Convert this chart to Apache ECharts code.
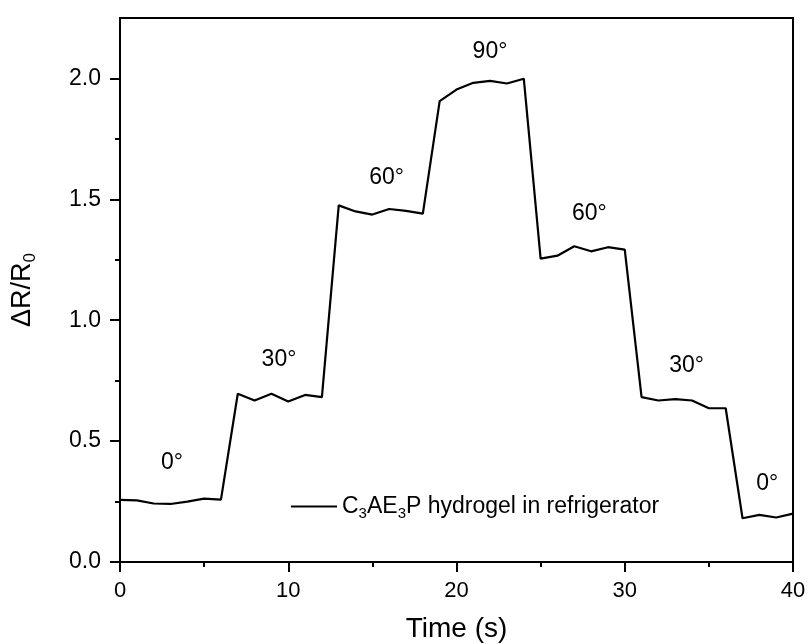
<!DOCTYPE html>
<html>
<head>
<meta charset="utf-8">
<script src="https://cdn.jsdelivr.net/npm/echarts@6/dist/echarts.min.js"></script>
<style>html,body{margin:0;padding:0;background:#fff}#c{width:809px;height:644px}</style>
</head>
<body>
<div id="c"></div>
<script>
var time = [0,1,2,3,4,5,6,7,8,9,10,11,12,13,14,15,16,17,18,19,20,21,22,23,24,25,26,27,28,29,30,31,32,33,34,35,36,37,38,39,40];
var ratio = [0.257,0.255,0.242,0.240,0.250,0.262,0.258,0.696,0.668,0.696,0.664,0.691,0.682,1.475,1.450,1.437,1.460,1.452,1.441,1.906,1.954,1.982,1.990,1.979,1.999,1.255,1.267,1.306,1.285,1.302,1.292,0.682,0.668,0.674,0.668,0.636,0.636,0.181,0.195,0.184,0.200];
var angleLabels = ['0°','30°','60°','90°','60°','30°','0°'];
var angleX = [3.09,9.45,15.85,21.99,27.9,33.68,38.47];
var angleY = [0.41,0.836,1.589,2.11,1.441,0.812,0.326];
var yMajor = [0,0.5,1.0,1.5,2.0];
var yMinor = [0.25,0.75,1.25,1.75];
var seriesName = 'C3AE3P hydrogel in refrigerator';

var chart = echarts.init(document.getElementById('c'));
var font = 'Liberation Sans, Arial, sans-serif';
var labelPts = angleX.map(function(x,i){return [x, angleY[i], angleLabels[i]];});
chart.setOption({
  animation:false,
  backgroundColor:'#fff',
  grid:{left:120,right:16,top:18,bottom:82,outerBoundsMode:'none',containLabel:false,show:true,borderColor:'#000',borderWidth:2,backgroundColor:'transparent'},
  legend:{
    left:286, top:490, icon:'rect', itemWidth:46, itemHeight:2, itemGap:10,
    data:[seriesName],
    formatter:function(){return '{a|C}{s|3}{a|AE}{s|3}{a|P hydrogel in refrigerator}';},
    textStyle:{
      color:'#000', fontFamily:font, fontSize:23,
      rich:{a:{fontSize:23,fontFamily:font,color:'#000'}, s:{fontSize:15,fontFamily:font,color:'#000',padding:[15,0,0,0]}}
    }
  },
  xAxis:{
    type:'value', min:0, max:40, interval:10,
    name:'Time (s)', nameLocation:'middle', nameGap:53,
    nameTextStyle:{fontFamily:font,fontSize:28,color:'#000'},
    axisLine:{lineStyle:{color:'#000',width:2}},
    axisTick:{length:10,lineStyle:{color:'#000',width:2}},
    minorTick:{show:true,splitNumber:2,length:5,lineStyle:{color:'#000',width:2}},
    axisLabel:{fontFamily:font,fontSize:22,color:'#000',margin:18},
    splitLine:{show:false}
  },
  yAxis:[{
    type:'value', min:0, max:2.25,
    name:'{a|ΔR/R}{s|0}', nameLocation:'middle', nameGap:81, nameRotate:90,
    nameTextStyle:{fontFamily:font,fontSize:27,color:'#000',
      rich:{a:{fontFamily:font,fontSize:27,color:'#000'},s:{fontFamily:font,fontSize:17,color:'#000',padding:[16,0,0,0]}}},
    axisLine:{lineStyle:{color:'#000',width:2}},
    axisTick:{length:10,lineStyle:{color:'#000',width:2},customValues:yMajor},
    axisLabel:{fontFamily:font,fontSize:23,color:'#000',margin:19,customValues:yMajor,
      formatter:function(v){return v.toFixed(1);}},
    splitLine:{show:false}
  },{
    type:'value', min:0, max:2.25, position:'left',
    axisLine:{show:false},
    axisTick:{show:true,length:5,lineStyle:{color:'#000',width:2},customValues:yMinor},
    axisLabel:{show:false},
    splitLine:{show:false}
  }],
  series:[{
    name:seriesName, type:'line', yAxisIndex:0,
    data:time.map(function(t,i){return [t, ratio[i]];}),
    showSymbol:false, symbol:'none',
    lineStyle:{color:'#000',width:2.2}, itemStyle:{color:'#000'}
  },{
    type:'scatter', yAxisIndex:0, symbolSize:1, silent:true,
    itemStyle:{color:'rgba(0,0,0,0)',opacity:1},
    data:labelPts,
    label:{show:true,position:'inside',formatter:function(p){return p.data[2];},
      fontFamily:font,fontSize:23,color:'#000',opacity:1}
  }]
});
</script>
</body>
</html>
